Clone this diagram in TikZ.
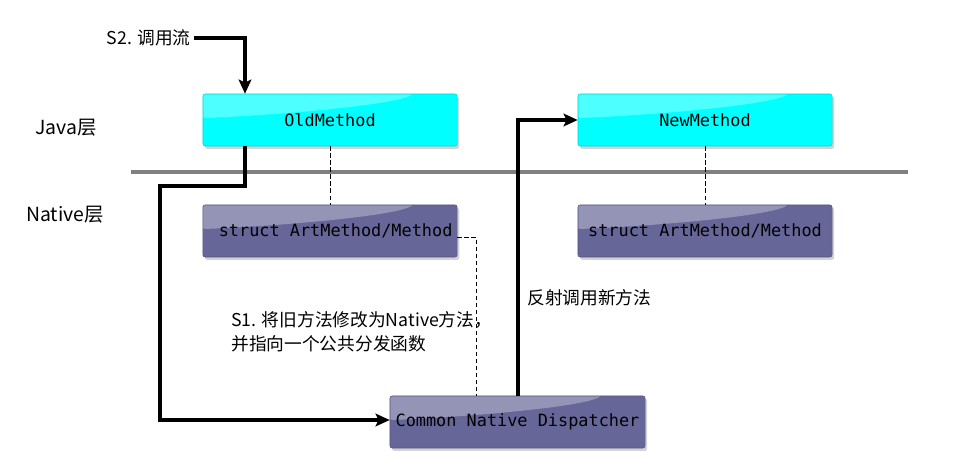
\documentclass[tikz,border=0pt]{standalone}
\usepackage{fontspec}
\usepackage{tikz}
\usetikzlibrary{positioning,shadows,calc,arrows.meta}
\newfontfamily\cjk{Noto Sans CJK SC}
\newfontfamily\codefont{DejaVu Sans Mono}
\definecolor{javacyan}{RGB}{0,255,255}
\definecolor{nativeblue}{RGB}{102,102,153}
\definecolor{sepgray}{RGB}{128,128,128}

\tikzset{
  methodbox/.style={draw=#1!85!black, fill=#1, line width=0.4pt, rounded corners=1.5pt,
    minimum width=6.35cm, minimum height=1.3cm, font=\codefont\fontsize{12}{14}\selectfont,
    drop shadow={shadow xshift=1.5pt, shadow yshift=-2pt, opacity=0.35},
    path picture={
      \fill[white, opacity=0.3] (path picture bounding box.north west)
        -- ([xshift=-1.1cm]path picture bounding box.north east)
        .. controls ([xshift=-1.6cm,yshift=-0.3cm]path picture bounding box.north east)
        and ([xshift=1.5cm,yshift=0.1cm]path picture bounding box.west)
        .. ([yshift=0.05cm]path picture bounding box.west) -- cycle;
    }},
  flow/.style={line width=2.4pt, -{Stealth[length=10pt,width=9pt,inset=2pt]}},
  link/.style={line width=0.6pt, dash pattern=on 3pt off 2pt},
  label/.style={font=\cjk\fontsize{12.6}{16}\selectfont, inner sep=0pt}
}

\begin{document}
\begin{tikzpicture}[x=0.025cm, y=-0.025cm]
  \useasboundingbox (0,0) rectangle (965,466);

  % layer separator
  \draw[sepgray, line width=3.5pt] (131,172) -- (908,172);
  \node[label, font=\cjk\fontsize{13.8}{16}\selectfont] (java) at (66,128) {Java层};
  \node[label, font=\cjk\fontsize{13.8}{16}\selectfont] (native) at (65,215) {Native层};

  % methods
  \node[methodbox=javacyan] (old) at (330,120) {OldMethod};
  \node[methodbox=javacyan] (new) at (705,120) {NewMethod};
  \node[methodbox=nativeblue, text=black] (oldart) at (330,231) {\hspace{8pt}struct ArtMethod/Method};
  \node[methodbox=nativeblue, text=black] (newart) at (705,231) {struct ArtMethod/Method};
  \node[methodbox=nativeblue, minimum width=6.375cm] (disp) at (517.5,422) {Common Native Dispatcher};

  % java <-> native links
  \draw[link] (old.south) -- (oldart.north);
  \draw[link] (new.south) -- (newart.north);
  \coordinate (bend) at (476,237);
  \draw[link] (oldart.east |- bend) -- (bend) -- (bend |- disp.north);

  % call flow
  \node[label, anchor=east] (s2) at (191,38) {S2. 调用流};
  \draw[flow] (s2.east) ++(3,0) -- ++(51,0) coordinate (c1) -- (c1 |- old.north);
  \coordinate (down) at (245,186);
  \draw[flow] (down |- old.south) -- (down) -- (160,186) -- (160,420) -- (disp.west |- 0,420);
  \coordinate (up) at (518,120);
  \draw[flow] (up |- disp.north) -- (up) -- (new.west);

  \node[label, anchor=west] (reflect) at (527,298) {反射调用新方法};
  \node[label, anchor=north west, align=left] (s1) at (231,311) {S1. 将旧方法修改为Native方法，\\[1pt]并指向一个公共分发函数};
\end{tikzpicture}
\end{document}
